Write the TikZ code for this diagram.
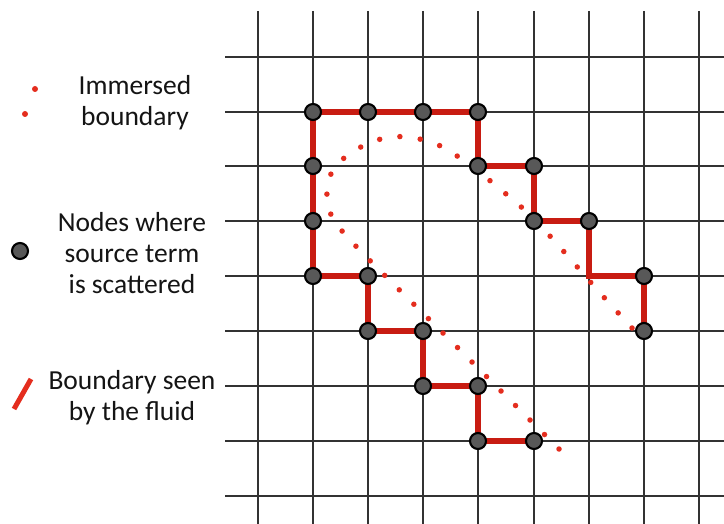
\documentclass[tikz,border=0pt]{standalone}
\usepackage{fontspec}
\setmainfont{Carlito}
\pgfdeclarelayer{gridlayer}
\pgfdeclarelayer{linelayer}
\pgfsetlayers{gridlayer,linelayer,main}
\definecolor{gridcol}{RGB}{50,50,50}
\definecolor{bred}{RGB}{200,28,18}
\definecolor{dotred}{RGB}{228,45,30}
\definecolor{nodegray}{RGB}{88,88,88}
\definecolor{txt}{RGB}{20,20,20}
\tikzset{
  gridline/.style={draw=gridcol, line width=1.3pt},
  gnode/.style={circle, fill=nodegray, draw=black, line width=2.1pt, minimum size=16pt, inner sep=0pt},
  redline/.style={draw=bred, line width=5.5pt, line join=miter},
  ibdots/.style={draw=dotred, line width=5.5pt, line cap=round, dash pattern=on 0pt off 20.5pt},
  idot/.style={circle, fill=dotred, minimum size=6pt, inner sep=0pt},
  legtext/.style={align=center, text=txt, font=\fontsize{27.5}{31}\selectfont, inner sep=0pt}
}
\begin{document}
\begin{tikzpicture}[x=1pt,y=-1pt]
\useasboundingbox (0,0) rectangle (724,524);
\begin{pgfonlayer}{gridlayer}
\foreach \x in {258,313,368,423,478,534,589,644,699} \draw[gridline] (\x,11) -- (\x,524);
\foreach \y in {57,112,166,221,276,331,386,441,496} \draw[gridline] (225,\y) -- (724,\y);
\end{pgfonlayer}

% nodes where source term is scattered
\node[gnode] (a1) at (313,112) {};
\node[gnode] (a2) at (368,112) {};
\node[gnode] (a3) at (423,112) {};
\node[gnode] (a4) at (478,112) {};
\node[gnode] (b1) at (313,166) {};
\node[gnode] (b2) at (313,221) {};
\node[gnode] (b3) at (313,276) {};
\node[gnode] (c1) at (478,166) {};
\node[gnode] (c2) at (534,166) {};
\node[gnode] (d1) at (534,221) {};
\node[gnode] (d2) at (589,221) {};
\coordinate (e0) at (589,276);
\node[gnode] (e1) at (644,276) {};
\node[gnode] (e2) at (644,331) {};
\node[gnode] (f1) at (368,276) {};
\node[gnode] (f2) at (368,331) {};
\node[gnode] (f3) at (423,331) {};
\node[gnode] (f4) at (423,386) {};
\node[gnode] (f5) at (478,386) {};
\node[gnode] (f6) at (478,441) {};
\node[gnode] (f7) at (534,441) {};

\begin{pgfonlayer}{linelayer}
\draw[redline] (b3.center) -- (b2.center) -- (b1.center) -- (a1.center) -- (a2.center) -- (a3.center) -- (a4.center) -- (c1.center) -- (c2.center) -- (d1.center) -- (d2.center) -- (e0) -- (e1.center) -- (e2.center);
\draw[redline] (b3.center) -- (f1.center) -- (f2.center) -- (f3.center) -- (f4.center) -- (f5.center) -- (f6.center) -- (f7.center);
\draw[ibdots] plot[smooth, tension=0.55] coordinates {(559,449) (455,345) (352,242) (329,209) (330,176) (352,152) (390,137) (431,142) (466,162) (500,189) (530,215) (558,245) (601,294) (644,341)};
\end{pgfonlayer}

% legend
\node[idot] (ld1) at (35,89) {};
\node[idot] (ld2) at (25,114) {};
\node[legtext] (t1) at (135,103) {Immersed\\boundary};
\node[gnode] (lnode) at (20,251) {};
\node[legtext] (t2) at (132,253) {Nodes where\\source term\\is scattered};
\coordinate (la) at (14,409);
\coordinate (lb) at (31,379);
\draw[draw=dotred, line width=5pt] (la) -- (lb);
\node[legtext] (t3) at (132,398) {Boundary seen\\by the fluid};
\end{tikzpicture}
\end{document}
